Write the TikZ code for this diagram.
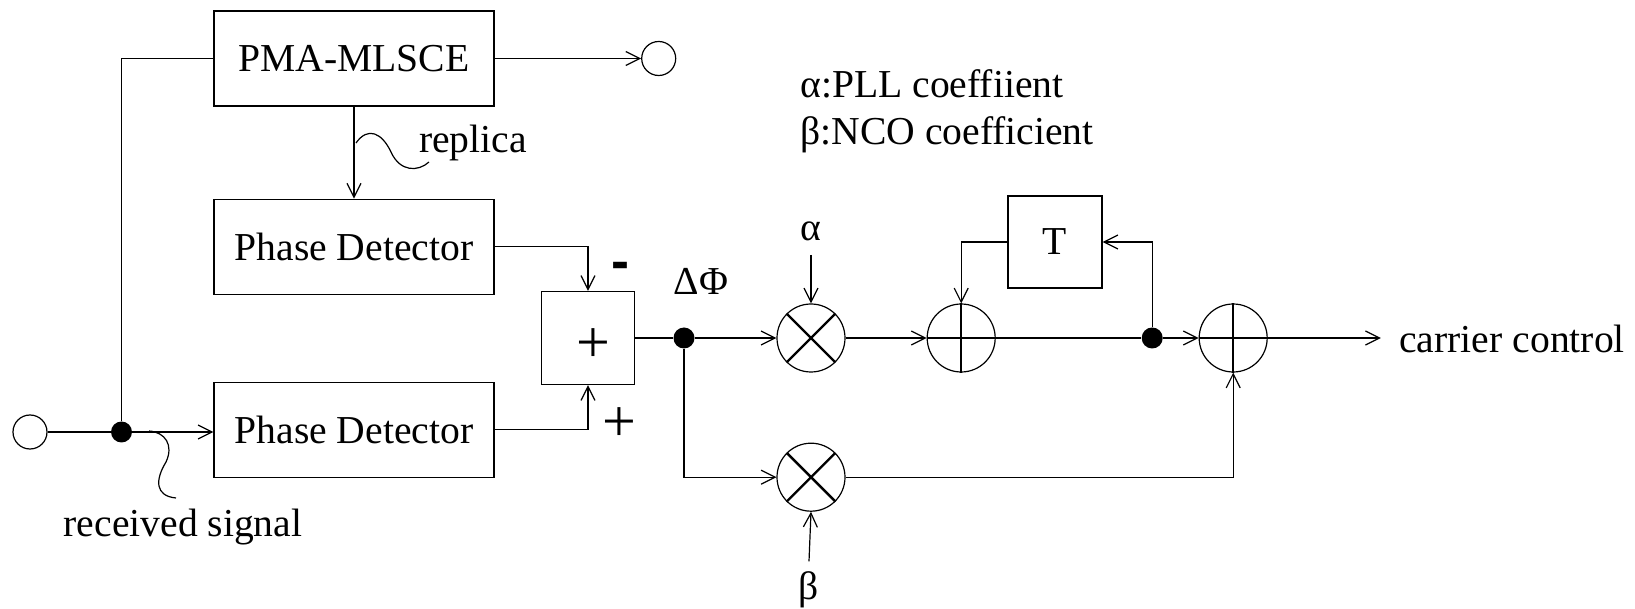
\documentclass[tikz,border=0pt]{standalone}
\usepackage{fontspec}
\setmainfont{Liberation Serif}
\newfontfamily\signfont{Liberation Sans}
\usetikzlibrary{arrows.meta, positioning, calc}

\begin{document}
\begin{tikzpicture}[
        x=0.5pt, y=-0.5pt,
        % Define styles for the nodes
        base_node/.style={rectangle, draw=black, line width=0.6pt, inner sep=0pt, align=center, font=\fontsize{19.8}{23.5}\selectfont},
        block_node/.style={base_node, minimum width=140pt, minimum height=47.5pt},
        sum_node/.style={base_node, minimum width=46.5pt, minimum height=46.5pt},
        delay_node/.style={base_node, minimum width=47pt, minimum height=46pt},
        op_node/.style={circle, draw=black, line width=0.6pt, minimum size=34pt, inner sep=0pt},
        port_node/.style={circle, draw=black, line width=0.6pt, minimum size=17pt, inner sep=0pt},
        dot_node/.style={circle, fill=black, minimum size=10.5pt, inner sep=0pt},
        label_node/.style={inner sep=0pt, font=\fontsize{19.8}{23.5}\selectfont},
        sign_node/.style={inner sep=0pt, font=\fontsize{30}{30}\selectfont},
        minus_node/.style={inner sep=0pt, font=\signfont\bfseries\fontsize{27}{27}\selectfont},
        % Styles for arrows
        arrow/.style={-{Straight Barb[length=7pt, width=7pt]}, line width=0.6pt},
        wire/.style={line width=0.6pt},
        op_mark/.style={line width=1.2pt}
    ]

    \useasboundingbox (0,0) rectangle (1635,609);

    % =========================================================================
    % ESTIMATOR & PHASE DETECTORS
    % =========================================================================
    \node (pma) [block_node] at (354, 58.5) {PMA-MLSCE};
    \node (out_port) [port_node, right=73.25pt of pma] {};
    \draw [arrow] (pma) -- (out_port);

    \node (pd_upper) [block_node, below=46pt of pma] {Phase Detector};
    \draw [arrow] (pma) -- (pd_upper);

    \node (pd_lower) [block_node, below=43.5pt of pd_upper] {Phase Detector};

    \node (in_port) [port_node] at (30, 432) {};
    \node (split_in) [dot_node, right=31.5pt of in_port] {};
    \draw [wire] (in_port) -- (split_in);
    \draw [arrow] (split_in) -- (split_in -| pd_lower.west);
    \draw [wire] (split_in) |- (pma.west);

    % labels with their squiggles
    \node (replica_lbl) [label_node] at (473, 143) {replica};
    \draw [wire] (356,143) .. controls (368,126) and (382,133) .. (391,152)
        .. controls (400,172) and (418,172) .. (429,162);

    \node (received_lbl) [label_node] at (183, 527) {received signal};
    \draw [wire] (149,431) .. controls (165,432) and (174,445) .. (166,462)
        .. controls (155,480) and (155,496) .. (176,498);

    % =========================================================================
    % PHASE ERROR
    % =========================================================================
    \node (sum_box) [sum_node] at (588, 338) {};
    \node (sum_sign) [sign_node] at (593, 346) {+};
    \draw [arrow] (pd_upper.east) -| (sum_box.north);
    \draw [arrow] (pd_lower.east) -| (sum_box.south);

    \node (minus_lbl) [minus_node] at (620, 271) {-};
    \node (plus_lbl) [sign_node] at (619, 425) {+};

    \node (split_err) [dot_node, right=19pt of sum_box] {};
    \draw [wire] (sum_box) -- (split_err);
    \node (err_lbl) [label_node] at (701, 281) {ΔΦ};

    % =========================================================================
    % LOOP FILTER & NCO
    % =========================================================================
    \node (mix_alpha) [op_node, right=40.75pt of split_err] {};
    \draw [op_mark] (mix_alpha.north west) -- (mix_alpha.south east)
        (mix_alpha.north east) -- (mix_alpha.south west);
    \draw [arrow] (split_err) -- (mix_alpha);

    \node (alpha_lbl) [label_node] at (811, 231) {α};
    \draw [arrow] ([yshift=-7pt]alpha_lbl.south) -- (mix_alpha.north);

    \node (add_loop) [op_node, right=40.5pt of mix_alpha] {};
    \draw [op_mark] (add_loop.north) -- (add_loop.south)
        (add_loop.west) -- (add_loop.east);
    \draw [arrow] (mix_alpha) -- (add_loop);

    \node (delay_box) [delay_node] at (1055, 242) {T};
    \draw [arrow] (delay_box.west) -| (add_loop.north);

    \node (split_acc) [dot_node, right=72.75pt of add_loop] {};
    \draw [wire] (add_loop) -- (split_acc);
    \draw [arrow] (split_acc) |- (delay_box.east);

    \node (add_out) [op_node, right=17.75pt of split_acc] {};
    \draw [op_mark] (add_out.north) -- (add_out.south)
        (add_out.west) -- (add_out.east);
    \draw [arrow] (split_acc) -- (add_out);

    \node (mix_beta) [op_node, below=35pt of mix_alpha] {};
    \draw [op_mark] (mix_beta.north west) -- (mix_beta.south east)
        (mix_beta.north east) -- (mix_beta.south west);
    \draw [arrow] (split_err) |- (mix_beta.west);
    \draw [arrow] (mix_beta.east) -| (add_out.south);

    \node (beta_lbl) [label_node] at (809, 590) {β};
    \draw [arrow] ([yshift=5pt]beta_lbl.north) -- (mix_beta.south);

    % =========================================================================
    % OUTPUT & LEGEND
    % =========================================================================
    \coordinate [right=56.5pt of add_out] (out_end);
    \draw [arrow] (add_out) -- (out_end);
    \node (out_lbl) [label_node, anchor=west] at (1399, 339) {carrier control};

    \node (legend_alpha) [label_node, anchor=base west] at (800, 98) {α:PLL coeffiient};
    \node (legend_beta) [label_node, anchor=base west] at (800, 145) {β:NCO coefficient};

\end{tikzpicture}
\end{document}
